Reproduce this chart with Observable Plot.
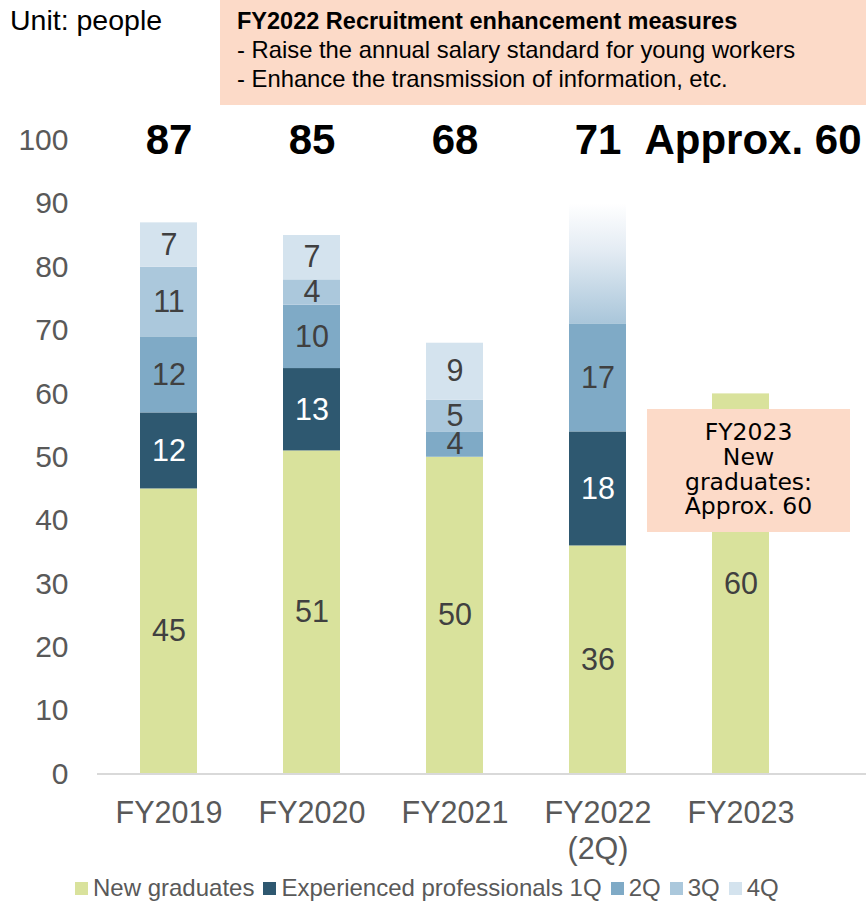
<!DOCTYPE html>
<html>
<head>
<meta charset="utf-8">
<script src="https://cdn.jsdelivr.net/npm/d3@7"></script>
<script src="https://cdn.jsdelivr.net/npm/@observablehq/plot@0.6"></script>
<style>
  html, body { margin: 0; padding: 0; background: #fff; }
  body { width: 866px; height: 902px; overflow: hidden; font-family: "Liberation Sans", Arial, sans-serif; }
  #wrap { position: relative; width: 866px; height: 902px; }
  #chart { position: absolute; left: 0; top: 0; }
  #unit { position: absolute; left: 10px; top: 4px; font-size: 28.5px; color: #000; }
  #measures { position: absolute; left: 220px; top: 0; width: 646px; height: 105px; background: #fcdac8; box-sizing: border-box; padding: 7px 0 0 17px; color: #000; }
  #measures .t { font-weight: bold; font-size: 23.5px; line-height: 29px; }
  #measures .l { font-size: 23.8px; line-height: 28.5px; }
  #callout { position: absolute; left: 647px; top: 409px; width: 203px; height: 123px; background: #fcdac8; box-sizing: border-box; padding-top: 11px; text-align: center; font-family: "DejaVu Sans", Verdana, sans-serif; font-size: 23.5px; line-height: 24.8px; color: #000; }
  #legend { position: absolute; left: 75px; top: 874px; font-size: 24px; color: #595959; white-space: nowrap; display: flex; align-items: center; }
  #legend .sw { display: inline-block; width: 13px; height: 13px; margin-right: 5px; }
  #legend .it { display: flex; align-items: center; margin-right: 9px; }
</style>
</head>
<body>
<div id="wrap">
  <div id="chart"></div>
  <div id="unit">Unit: people</div>
  <div id="measures">
    <div class="t">FY2022 Recruitment enhancement measures</div>
    <div class="l">- Raise the annual salary standard for young workers</div>
    <div class="l">- Enhance the transmission of information, etc.</div>
  </div>
  <div id="callout">FY2023<br>New<br>graduates:<br>Approx. 60</div>
  <div id="legend"></div>
</div>
<script>
// ---- data ----
const years = ["FY2019", "FY2020", "FY2021", "FY2022", "FY2023"];
const xTickLabels = ["FY2019", "FY2020", "FY2021", "FY2022\n(2Q)", "FY2023"];
const seriesNames = ["New graduates", "Experienced professionals 1Q", "2Q", "3Q", "4Q"];
const newGraduates = [45, 51, 50, 36, 60];
const exp1Q = [12, 13, 0, 18, 0];
const exp2Q = [12, 10, 4, 17, 0];
const exp3Q = [11, 4, 5, 0, 0];
const exp4Q = [7, 7, 9, 0, 0];
const totalLabels = ["87", "85", "68", "71", "Approx. 60"];
const fy2022Actual = 71;
const fy2022ForecastTop = 90;
const seriesColors = ["#d9e29c", "#2e5870", "#7faac6", "#abc8dc", "#d4e3ee"];
const labelColors = ["#404040", "#ffffff", "#404040", "#404040", "#404040"];

// ---- build stacked table ----
const seriesValues = [newGraduates, exp1Q, exp2Q, exp3Q, exp4Q];
const segments = [];
years.forEach((yr, i) => {
  let base = 0;
  seriesValues.forEach((vals, s) => {
    const v = vals[i];
    if (v > 0) {
      segments.push({year: yr, series: seriesNames[s], value: v, y1: base, y2: base + v, mid: base + v / 2, labelColor: labelColors[s]});
      base += v;
    }
  });
});
const totals = years.map((yr, i) => ({year: yr, label: totalLabels[i], shifted: i === 4}));
const forecast = [{year: "FY2022", y1: fy2022Actual, y2: fy2022ForecastTop}];

const defs = () => {
  const d = d3.create("svg:defs");
  const g = d.append("linearGradient").attr("id", "fcgrad").attr("x1", 0).attr("y1", 1).attr("x2", 0).attr("y2", 0);
  g.append("stop").attr("offset", "0%").attr("stop-color", "#a9c6da");
  g.append("stop").attr("offset", "60%").attr("stop-color", "#e3ebf3");
  g.append("stop").attr("offset", "100%").attr("stop-color", "#ffffff");
  return d.node();
};

const chart = Plot.plot({
  width: 866,
  height: 902,
  marginLeft: 97,
  marginRight: 0,
  marginTop: 140,
  marginBottom: 128.5,
  style: {fontFamily: "'Liberation Sans', Arial, sans-serif", background: "transparent"},
  x: {domain: years, range: [68.4, 840.6], paddingInner: 0.6, paddingOuter: 0.5, label: null},
  y: {domain: [0, 100], range: [773.5, 140], label: null},
  color: {domain: seriesNames, range: seriesColors},
  marks: [
    defs,
    Plot.barY(forecast, {x: "year", y1: "y1", y2: "y2", fill: "url(#fcgrad)"}),
    Plot.barY(segments, {x: "year", y1: "y1", y2: "y2", fill: "series"}),
    Plot.ruleY([0], {stroke: "#d9d9d9", strokeWidth: 2}),
    Plot.text(segments, {x: "year", y: "mid", text: d => String(d.value), fill: "labelColor", fontSize: 30.5}),
    Plot.text(totals, {x: "year", y: () => 100, text: "label", dx: 12, fill: "#000", fontSize: 42, fontWeight: "bold", filter: d => d.shifted}),
    Plot.text(totals, {x: "year", y: () => 100, text: "label", fill: "#000", fontSize: 42, fontWeight: "bold", filter: d => !d.shifted}),
    Plot.axisY({ticks: d3.range(0, 101, 10), tickSize: 0, tickPadding: 0, dx: -29, fontSize: 30, fill: "#595959", label: null}),
    Plot.axisX({tickSize: 0, tickPadding: 24, fontSize: 30.5, fill: "#595959", lineHeight: 1.17, tickFormat: d => xTickLabels[years.indexOf(d)], label: null})
  ]
});
document.getElementById("chart").appendChild(chart);

// legend
const lg = document.getElementById("legend");
seriesNames.forEach((n, i) => {
  const it = document.createElement("span");
  it.className = "it";
  const sw = document.createElement("span");
  sw.className = "sw";
  sw.style.background = seriesColors[i];
  it.appendChild(sw);
  it.appendChild(document.createTextNode(n));
  lg.appendChild(it);
});
</script>
</body>
</html>
